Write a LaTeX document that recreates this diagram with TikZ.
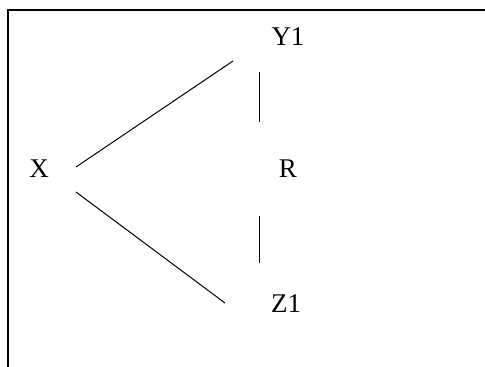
\documentclass[tikz,border=0pt]{standalone}
\usepackage{fontspec}
\setmainfont{Liberation Serif}
\usetikzlibrary{positioning}
\tikzset{
  lbl/.style={inner sep=2pt, font=\fontsize{27}{32}\selectfont},
  rama/.style={line width=1pt},
  enlace/.style={line width=0.7pt},
  marco/.style={line width=1.6pt},
}
\begin{document}
\begin{tikzpicture}[x=1pt,y=-1pt]
  \useasboundingbox (0,0) rectangle (485,367);
  % open frame, top and left
  \coordinate (fa) at (8,367);
  \coordinate (fb) at (8,10);
  \coordinate (fc) at (485,10);
  \draw[marco] (fa) -- (fb) -- (fc);
  \node[lbl] (y1) at (288,37) {Y1};
  \node[lbl] (r) at (288,169) {R};
  \node[lbl] (x) at (39,169) {X};
  \node[lbl] (z1) at (286,304) {Z1};
  \draw[rama] ([shift={(37pt,2pt)}]x.center) -- ([shift={(-55pt,-24pt)}]y1.center);
  \draw[rama] ([shift={(37pt,-23pt)}]x.center) -- ([shift={(-61pt,1pt)}]z1.center);
  \draw[enlace] ([shift={(-29pt,-35pt)}]y1.center) -- ([shift={(-29pt,47pt)}]r.center);
  \draw[enlace] ([shift={(-29pt,-47pt)}]r.center) -- ([shift={(-27pt,41pt)}]z1.center);
\end{tikzpicture}
\end{document}
